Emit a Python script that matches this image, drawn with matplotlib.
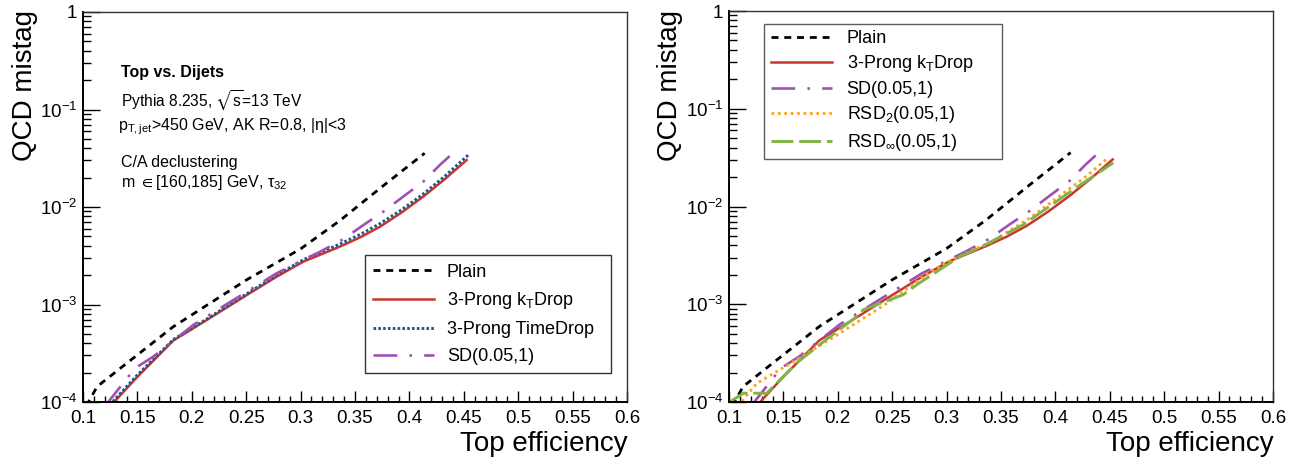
import math
import matplotlib
matplotlib.use('Agg')
import matplotlib.pyplot as plt
from matplotlib.ticker import FixedLocator, MultipleLocator, FuncFormatter, NullFormatter
from matplotlib.lines import Line2D

plt.rcParams['font.family'] = ['Liberation Sans', 'DejaVu Sans']
plt.rcParams['mathtext.fontset'] = 'custom'
plt.rcParams['mathtext.rm'] = 'Liberation Sans'
plt.rcParams['mathtext.it'] = 'Liberation Sans:italic'
plt.rcParams['mathtext.bf'] = 'Liberation Sans:bold'
plt.rcParams['mathtext.fallback'] = 'stixsans'

# ---- data (top efficiency, QCD mistag) ----
plain_x = [0.103, 0.113, 0.1416, 0.183, 0.25, 0.30, 0.336, 0.375, 0.414]
plain_y = [9.1e-5, 1.44e-4, 2.57e-4, 5.92e-4, 1.78e-3, 3.72e-3, 7.24e-3, 1.62e-2, 3.56e-2]

kt_x = [0.126, 0.1493, 0.183, 0.2137, 0.2505, 0.278, 0.3025, 0.336, 0.355, 0.373, 0.393, 0.4128, 0.433, 0.4526]
kt_y = [9.3e-5, 1.78e-4, 4.27e-4, 6.93e-4, 1.25e-3, 1.93e-3, 2.75e-3, 3.92e-3, 4.90e-3, 6.28e-3, 8.81e-3, 1.28e-2, 1.95e-2, 3.03e-2]

td_x = [0.1245, 0.1493, 0.183, 0.2137, 0.2505, 0.278, 0.3025, 0.336, 0.355, 0.373, 0.393, 0.4128, 0.433, 0.454]
td_y = [9.3e-5, 1.86e-4, 4.37e-4, 7.08e-4, 1.29e-3, 2.0e-3, 2.88e-3, 4.17e-3, 5.25e-3, 6.76e-3, 9.40e-3, 1.36e-2, 2.09e-2, 3.41e-2]

sd_x = [0.121, 0.1478, 0.1646, 0.2014, 0.2381, 0.278, 0.2994, 0.318, 0.3393, 0.3577, 0.376, 0.3944, 0.4128, 0.428, 0.437]
sd_y = [9.3e-5, 2.22e-4, 2.92e-4, 6.17e-4, 1.11e-3, 2.09e-3, 2.75e-3, 3.48e-3, 4.68e-3, 6.53e-3, 8.95e-3, 1.28e-2, 1.82e-2, 2.70e-2, 3.33e-2]

rsd2_x = [0.108, 0.1255, 0.1438, 0.1622, 0.202, 0.245, 0.2878, 0.3245, 0.3399, 0.3768, 0.4287, 0.4486]
rsd2_y = [9.1e-5, 1.55e-4, 2.05e-4, 2.70e-4, 5.06e-4, 1.02e-3, 2.26e-3, 3.63e-3, 4.25e-3, 7.66e-3, 2.05e-2, 3.16e-2]

rsdinf_x = [0.0995, 0.1132, 0.1347, 0.162, 0.181, 0.2174, 0.2235, 0.26, 0.2725, 0.3123, 0.3307, 0.3705, 0.4165, 0.4532]
rsdinf_y = [9.8e-5, 1.23e-4, 1.23e-4, 2.50e-4, 3.69e-4, 7.50e-4, 8.79e-4, 1.25e-3, 1.58e-3, 3.09e-3, 3.80e-3, 6.53e-3, 1.49e-2, 2.80e-2]

left_labels = ['Plain', '3-Prong k$_\\mathrm{T}$Drop', '3-Prong TimeDrop', 'SD(0.05,1)']
right_labels = ['Plain', '3-Prong k$_\\mathrm{T}$Drop', 'SD(0.05,1)',
                'RSD$_\\mathrm{2}$(0.05,1)', 'RSD$_{\\infty}$(0.05,1)']

# styles
STY = {
    'plain': dict(color='black', lw=2.0, dashes=(2.5, 2.1)),
    'kt': dict(color='#c8372d', lw=1.8, ls='-'),
    'td': dict(color='#1b5b8c', lw=2.1, dashes=(0.9, 0.75)),
    'sd': dict(color='#a24fb4', lw=1.9, dashes=(9.0, 4.6, 1.0, 4.6)),
    'rsd2': dict(color='#ffa31a', lw=2.1, dashes=(0.9, 1.3)),
    'rsdinf': dict(color='#80b446', lw=2.1, dashes=(7.5, 2.0)),
}

W, H = 1292, 457
fig = plt.figure(figsize=(W / 100, H / 100), dpi=100)


def px(x0, y0, x1, y1):
    return [x0 / W, 1 - y1 / H, (x1 - x0) / W, (y1 - y0) / H]


def yfmt(v, p):
    if v >= 0.999:
        return '1'
    return '$10^{%d}$' % int(round(math.log10(v)))


def style_axes(ax):
    ax.set_yscale('log')
    ax.set_xlim(0.1, 0.6)
    ax.set_ylim(1e-4, 1)
    ax.xaxis.set_major_locator(MultipleLocator(0.05))
    ax.xaxis.set_minor_locator(MultipleLocator(0.01))
    ax.xaxis.set_major_formatter(FuncFormatter(lambda v, p: '%g' % round(v, 2)))
    ax.yaxis.set_major_locator(FixedLocator([1e-4, 1e-3, 1e-2, 1e-1, 1]))
    minors = [m * 10.0 ** e for e in range(-4, 0) for m in range(2, 10)]
    ax.yaxis.set_minor_locator(FixedLocator(minors))
    ax.yaxis.set_minor_formatter(NullFormatter())
    ax.yaxis.set_major_formatter(FuncFormatter(yfmt))
    ax.tick_params(axis='x', which='major', direction='in', length=8, width=1, labelsize=13.5, pad=6,
                   top=False)
    ax.tick_params(axis='x', which='minor', direction='in', length=4.3, width=1, top=False)
    ax.tick_params(axis='y', which='major', direction='in', length=12, width=1, labelsize=13.5, pad=4,
                   right=False)
    ax.tick_params(axis='y', which='minor', direction='in', length=6, width=1, right=False)
    for s in ['left', 'bottom']:
        ax.spines[s].set_linewidth(1.4)
        ax.spines[s].set_color('black')
    for s in ['top', 'right']:
        ax.spines[s].set_linewidth(1.0)
        ax.spines[s].set_color('#333333')


axL = fig.add_axes(px(83, 12, 627, 402))
axR = fig.add_axes(px(729, 11, 1273, 402))
for ax in (axL, axR):
    style_axes(ax)

# left panel
axL.plot(plain_x, plain_y, **STY['plain'])
axL.plot(kt_x, kt_y, **STY['kt'])
axL.plot(td_x, td_y, **STY['td'])
axL.plot(sd_x, sd_y, **STY['sd'])

# right panel
axR.plot(plain_x, plain_y, **STY['plain'])
axR.plot(kt_x, kt_y, **STY['kt'])
axR.plot(sd_x, sd_y, **STY['sd'])
axR.plot(rsd2_x, rsd2_y, **STY['rsd2'])
axR.plot(rsdinf_x, rsdinf_y, **STY['rsdinf'])

# legends
hL = [Line2D([], [], **STY[k]) for k in ['plain', 'kt', 'td', 'sd']]
legL = axL.legend(hL, left_labels, loc='center', bbox_to_anchor=(0.518, 0.076, 0.452, 0.297),
                  mode='expand', fontsize=13, frameon=True, fancybox=False, edgecolor='black',
                  handlelength=3.4, handletextpad=0.7, labelspacing=0.55, borderpad=0.45,
                  borderaxespad=0)
legL.get_frame().set_linewidth(1.0)

hR = [Line2D([], [], **STY[k]) for k in ['plain', 'kt', 'sd', 'rsd2', 'rsdinf']]
legR = axR.legend(hR, right_labels, loc='center', bbox_to_anchor=(0.065, 0.625, 0.437, 0.339),
                  mode='expand', fontsize=13, frameon=True, fancybox=False, edgecolor='#333333',
                  handlelength=3.4, handletextpad=0.8, labelspacing=0.36, borderpad=0.35,
                  borderaxespad=0)
legR.get_frame().set_linewidth(1.0)

# annotations (left panel)
fig.text(121 / W, 1 - 77 / H, 'Top vs. Dijets', fontsize=11.5, fontweight='bold', va='baseline')
fig.text(121 / W, 1 - 107 / H, 'Pythia 8.235, $\\sqrt{\\mathrm{s}}$=13 TeV', fontsize=11.2, va='baseline')
fig.text(118 / W, 1 - 130 / H, 'p$_{\\mathrm{T,jet}}$>450 GeV, AK R=0.8, |η|<3', fontsize=11.5, va='baseline')
fig.text(121 / W, 1 - 167 / H, 'C/A declustering', fontsize=11.5, va='baseline')
fig.text(121 / W, 1 - 187 / H, 'm $\\in$[160,185] GeV, τ$_{\\mathrm{32}}$', fontsize=11.5, va='baseline')

# axis titles
for x_right, x_ylab in [(628, 25), (1274, 670)]:
    fig.text(x_right / W, 1 - 451 / H, 'Top efficiency', fontsize=20, ha='right', va='baseline')
    fig.text(x_ylab / W, 1 - 10 / H, 'QCD mistag', fontsize=20, rotation=90, ha='center', va='top')

fig.savefig('out.png', dpi=100)
